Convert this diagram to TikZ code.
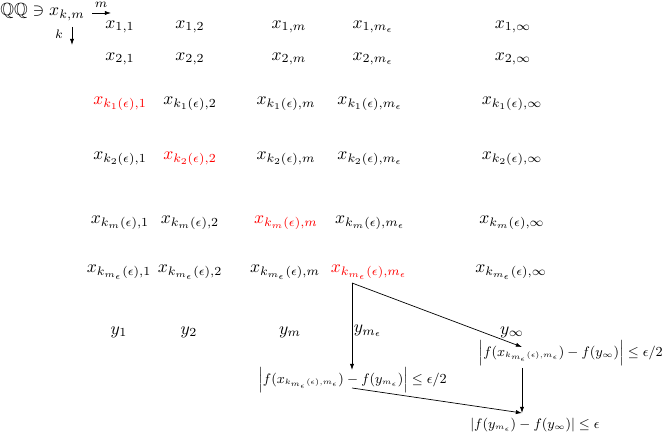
\documentclass[tikz,border=0pt]{standalone}
\usepackage{amssymb}
\usetikzlibrary{arrows.meta}
\DeclareMathSizes{9}{9}{5}{5}
\begin{document}
\begin{tikzpicture}[x=0.568pt,y=-0.568pt,
  ent/.style={inner sep=0pt, anchor=center},
  hl/.style={ent, text=red},
  ineq/.style={inner sep=0pt, font=\small, scale=0.87},
  lab/.style={inner sep=0pt, font=\scriptsize},
  arr/.style={-{Latex[length=3.5pt,width=2.4pt]}, line width=0.4pt}]
\useasboundingbox (0,0) rectangle (664,435);
% header
\node[inner sep=0pt, anchor=east] (Q) at (85,12) {$\mathbb{Q}\mathbb{Q}\ni x_{k,m}$};
\coordinate (ma) at (92,13);
\coordinate (mb) at (111,13);
\draw[arr] (ma) -- (mb);
\node[lab] (ml) at (101,5) {$m$};
\coordinate (ka) at (72,27);
\coordinate (kb) at (72,45);
\draw[arr] (ka) -- (kb);
\node[lab] (kl) at (59,34) {$k$};
% row 1
\node[ent] (a11) at (120,27) {$x_{1,1}$};
\node[ent] (a12) at (190,27) {$x_{1,2}$};
\node[ent] (a13) at (289,27) {$x_{1,m}$};
\node[ent] (a14) at (373,27) {$x_{1,m_\epsilon}$};
\node[ent] (a15) at (513,27) {$x_{1,\infty}$};
% row 2
\node[ent] (a21) at (120,59) {$x_{2,1}$};
\node[ent] (a22) at (190,59) {$x_{2,2}$};
\node[ent] (a23) at (289,59) {$x_{2,m}$};
\node[ent] (a24) at (373,59) {$x_{2,m_\epsilon}$};
\node[ent] (a25) at (513,59) {$x_{2,\infty}$};
% row 3
\node[hl]  (a31) at (120,104) {$x_{k_1(\epsilon),1}$};
\node[ent] (a32) at (190,104) {$x_{k_1(\epsilon),2}$};
\node[ent] (a33) at (286,104) {$x_{k_1(\epsilon),m}$};
\node[ent] (a34) at (370,104) {$x_{k_1(\epsilon),m_\epsilon}$};
\node[ent] (a35) at (512,104) {$x_{k_1(\epsilon),\infty}$};
% row 4
\node[ent] (a41) at (120,159) {$x_{k_2(\epsilon),1}$};
\node[hl]  (a42) at (190,159) {$x_{k_2(\epsilon),2}$};
\node[ent] (a43) at (286,159) {$x_{k_2(\epsilon),m}$};
\node[ent] (a44) at (370,159) {$x_{k_2(\epsilon),m_\epsilon}$};
\node[ent] (a45) at (512,159) {$x_{k_2(\epsilon),\infty}$};
% row 5
\node[ent] (a51) at (120,223) {$x_{k_m(\epsilon),1}$};
\node[ent] (a52) at (190,223) {$x_{k_m(\epsilon),2}$};
\node[hl]  (a53) at (286,223) {$x_{k_m(\epsilon),m}$};
\node[ent] (a54) at (370,223) {$x_{k_m(\epsilon),m_\epsilon}$};
\node[ent] (a55) at (512,223) {$x_{k_m(\epsilon),\infty}$};
% row 6
\node[ent] (a61) at (119,272) {$x_{k_{m_\epsilon}(\epsilon),1}$};
\node[ent] (a62) at (190,272) {$x_{k_{m_\epsilon}(\epsilon),2}$};
\node[ent] (a63) at (285,272) {$x_{k_{m_\epsilon}(\epsilon),m}$};
\node[hl]  (a64) at (369,272) {$x_{k_{m_\epsilon}(\epsilon),m_\epsilon}$};
\node[ent] (a65) at (511,272) {$x_{k_{m_\epsilon}(\epsilon),\infty}$};
% row 7
\node[ent] (y1) at (119,332) {$y_1$};
\node[ent] (y2) at (189,332) {$y_2$};
\node[ent] (ym) at (290,332) {$y_m$};
\node[ent] (yme) at (368,331) {$y_{m_\epsilon}$};
\node[ent] (yinf) at (512,332) {$y_\infty$};
% inequalities
\node[ineq] (lineq) at (352.5,380) {$\bigl|f(x_{k_{m_\epsilon}(\epsilon),m_\epsilon})-f(y_{m_\epsilon})\bigr|\le\epsilon/2$};
\node[ineq, anchor=east] (rineq) at (663,353) {$\bigl|f(x_{k_{m_\epsilon}(\epsilon),m_\epsilon})-f(y_\infty)\bigr|\le\epsilon/2$};
\node[ineq] (bineq) at (535,425) {$|f(y_{m_\epsilon})-f(y_\infty)|\le\epsilon$};
% connector points
\coordinate (S) at (352,283);
\coordinate (L1) at (352,370);
\coordinate (L2) at (352,388);
\coordinate (R1) at (522,347);
\coordinate (R2) at (522,368);
\coordinate (B) at (522,413);
\draw[arr] (S) -- (L1);
\draw[arr] (S) -- (R1);
\draw[arr] (L2) -- (B);
\draw[arr] (R2) -- (B);
\end{tikzpicture}
\end{document}
